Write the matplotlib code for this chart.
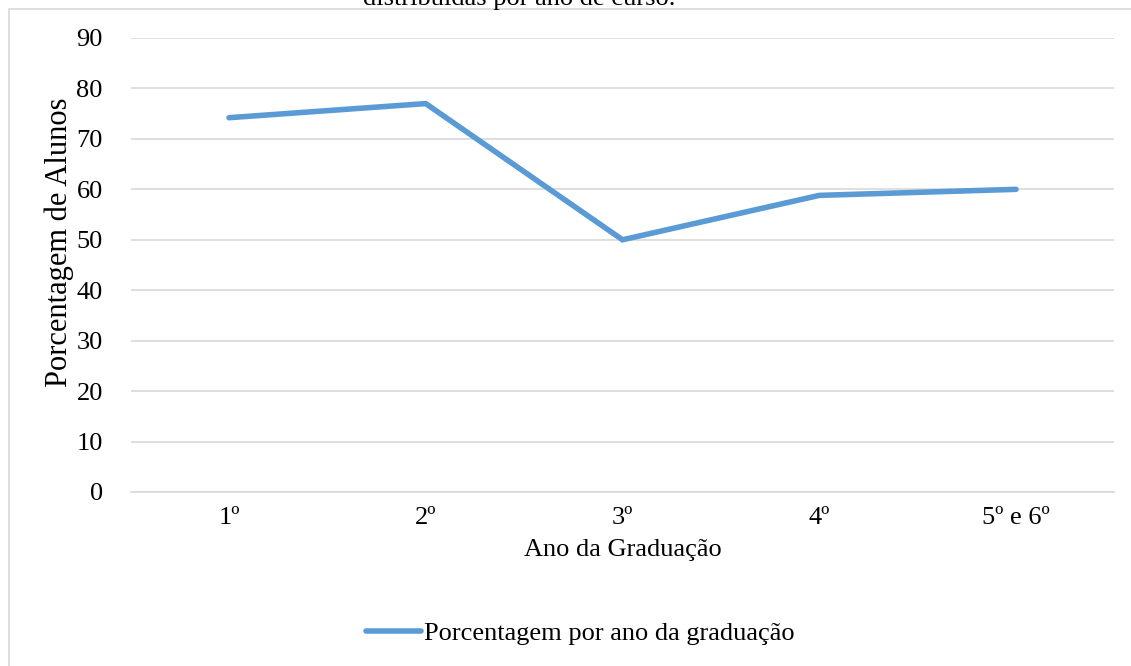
import matplotlib
matplotlib.use("Agg")
import matplotlib.pyplot as plt
from matplotlib.patches import Rectangle

categories = ["1º", "2º", "3º", "4º", "5º e 6º"]
values = [74.2, 77.0, 50.0, 58.8, 60.0]
yticks = [0, 10, 20, 30, 40, 50, 60, 70, 80, 90]

W, H = 1131, 666
plt.rcParams['font.family'] = ['Liberation Serif', 'DejaVu Serif']
fs = 19

fig = plt.figure(figsize=(W/100, H/100), dpi=100)
fig.patch.set_facecolor('white')

# outer border
fig.patches.append(Rectangle((9/W, 0 - 0.01), 1.05, 1 - 9/H + 0.01, transform=fig.transFigure,
                             fill=False, edgecolor='#d9d9d9', linewidth=1.2, zorder=0))

ax_l, ax_r, ax_t, ax_b = 130.6, 1114.4, 38, 492
ax = fig.add_axes([ax_l/W, (H-ax_b)/H, (ax_r-ax_l)/W, (ax_b-ax_t)/H])
x = list(range(len(categories)))
ax.plot(x, values, color='#5b9bd5', linewidth=4.0, solid_capstyle='round', solid_joinstyle='miter',
        label='Porcentagem por ano da graduação', zorder=3)
ax.set_xlim(-0.5, len(categories)-0.5)
ax.set_ylim(0, 90)
ax.set_yticks(yticks)
ax.set_xticks(x)
ax.set_xticklabels(categories)
ax.grid(axis='y', color='#d9d9d9', linewidth=1.2)
ax.set_axisbelow(True)
for s in ['top', 'right', 'left']:
    ax.spines[s].set_visible(False)
ax.spines['bottom'].set_color('#d9d9d9')
ax.spines['bottom'].set_linewidth(1.2)
ax.tick_params(axis='both', length=0, labelsize=fs, colors='black')
ax.tick_params(axis='y', pad=20)
ax.tick_params(axis='x', pad=11)
ax.set_xlabel('Ano da Graduação', fontsize=fs, labelpad=7)
ax.set_ylabel('Porcentagem de Alunos', fontsize=22, va='center', ha='center', rotation_mode='anchor')
ax.yaxis.set_label_coords((59 - ax_l)/(ax_r - ax_l), (ax_b - 242)/(ax_b - ax_t))

leg = fig.legend(loc='center', bbox_to_anchor=(580/W, 1 - 633/H), frameon=False, fontsize=fs,
                 handlelength=2.1, handletextpad=0.1)

fig.text(519.5/W, 1 - 4.5/H, 'distribuídas por ano de curso.', ha='center', va='baseline', fontsize=fs)

fig.savefig('out.png', dpi=100, facecolor='white')
